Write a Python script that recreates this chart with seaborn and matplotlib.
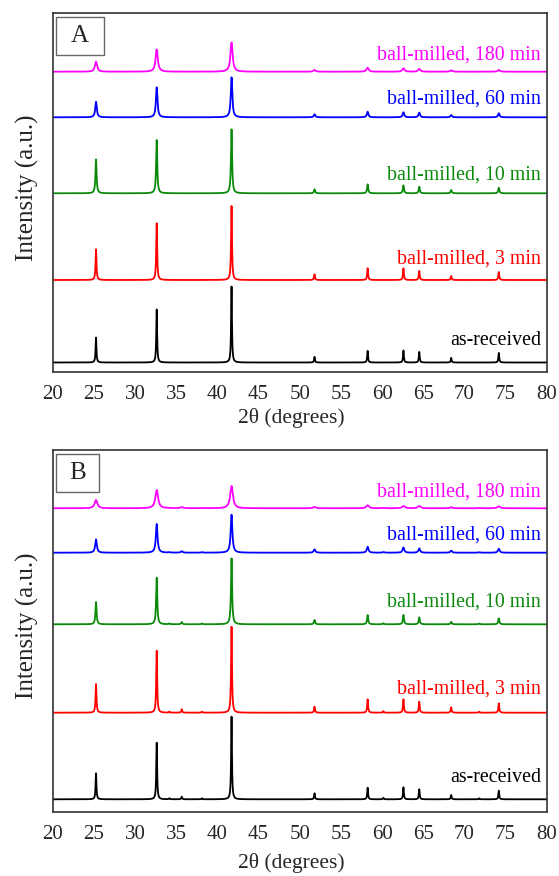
import numpy as np
import pandas as pd
import seaborn as sns
import matplotlib.pyplot as plt
from matplotlib.patches import Rectangle
from matplotlib.ticker import MultipleLocator

# ---- data -------------------------------------------------------------
samples = ["as-received", "ball-milled, 3 min", "ball-milled, 10 min",
           "ball-milled, 60 min", "ball-milled, 180 min"]
colors = ["#000000", "#ff0000", "#0a8a0a", "#0000ff", "#ff00ff"]

# panel A: reflection positions (2θ, degrees) and peak intensities (a.u.)
peaks_A = [25.26, 32.63, 41.72, 51.80, 58.25, 62.60, 64.52, 68.40, 74.18]
int_A_asrec = [25.0, 53.0, 76.0, 5.6, 11.6, 12.0, 10.6, 4.6, 9.6]
int_A_3min = [30.7, 56.7, 74.0, 5.7, 11.7, 11.7, 9.0, 4.0, 8.0]
int_A_10min = [34.0, 53.3, 64.0, 4.0, 9.0, 8.0, 6.6, 3.3, 5.6]
int_A_60min = [15.6, 30.0, 40.0, 3.0, 5.6, 5.0, 4.7, 2.3, 4.0]
int_A_180min = [10.0, 22.3, 29.3, 1.7, 4.0, 3.3, 2.7, 1.3, 1.7]
fwhm_A = [0.12, 0.13, 0.16, 0.22, 0.32]
offset_A = [9.5, 92.0, 178.7, 254.7, 300.3]

# panel B: reflection positions (2θ, degrees) and peak intensities (a.u.)
peaks_B = [25.26, 32.63, 34.17, 35.67, 38.13, 41.72, 51.80, 58.25, 60.15,
           62.60, 64.52, 68.40, 71.80, 74.18]
int_B_asrec = [26.0, 56.6, 1.0, 2.6, 1.0, 82.6, 6.0, 11.6, 1.5, 12.0, 10.0, 4.3, 1.0, 8.6]
int_B_3min = [28.7, 62.0, 1.0, 3.4, 1.0, 86.0, 6.0, 13.4, 1.5, 13.4, 11.0, 5.4, 1.0, 9.4]
int_B_10min = [22.3, 46.6, 0.8, 2.3, 0.8, 66.0, 4.3, 9.3, 1.0, 9.3, 7.0, 2.6, 0.8, 6.0]
int_B_60min = [13.3, 28.7, 0.5, 1.5, 0.5, 38.0, 3.3, 6.0, 0.6, 5.3, 4.3, 2.0, 0.5, 4.0]
int_B_180min = [8.3, 18.3, 0.3, 1.0, 0.3, 22.3, 1.3, 3.0, 0.4, 2.3, 2.3, 1.0, 0.3, 2.0]
fwhm_B = [0.12, 0.13, 0.16, 0.24, 0.40]
offset_B = [12.2, 98.8, 187.2, 258.8, 303.2]

two_theta = np.arange(20.0, 80.0001, 0.01)


def pattern(positions, intensities, fwhm):
    """Sum of Lorentzian reflections for one diffractogram."""
    hw = fwhm / 2.0
    y = np.zeros_like(two_theta)
    for p, h in zip(positions, intensities):
        y += h / (1.0 + ((two_theta - p) / hw) ** 2)
    return y


def build_frame(positions, intensity_sets, fwhms, offsets):
    frames = []
    for name, ints, w, off in zip(samples, intensity_sets, fwhms, offsets):
        frames.append(pd.DataFrame({"two_theta": two_theta,
                                    "intensity": pattern(positions, ints, w) + off,
                                    "sample": name}))
    return pd.concat(frames, ignore_index=True)


df_A = build_frame(peaks_A, [int_A_asrec, int_A_3min, int_A_10min, int_A_60min, int_A_180min],
                   fwhm_A, offset_A)
df_B = build_frame(peaks_B, [int_B_asrec, int_B_3min, int_B_10min, int_B_60min, int_B_180min],
                   fwhm_B, offset_B)

# ---- styling ------------------------------------------------------------
sns.set_style("white")
plt.rcParams["font.family"] = ["Liberation Serif", "DejaVu Serif"]

fig = plt.figure(figsize=(5.59, 8.76), dpi=100)
W, H = 559.0, 876.0
ax_A = fig.add_axes([52.7 / W, 1 - 372.0 / H, 494.0 / W, 359.0 / H])
ax_B = fig.add_axes([52.7 / W, 1 - 811.5 / H, 494.0 / W, 362.0 / H])

label_y_A = [31.3, 112.7, 197.0, 272.7, 317.0]
label_y_B = [33.8, 122.8, 209.2, 276.5, 319.8]

for ax, df, ylim, label_y, letter, box, xpad in [
        (ax_A, df_A, 359.0, label_y_A, "A", (0.0067, 0.883, 0.0971, 0.105), 3),
        (ax_B, df_B, 362.0, label_y_B, "B", (0.0067, 0.882, 0.0878, 0.106), 7)]:
    sns.lineplot(data=df, x="two_theta", y="intensity", hue="sample",
                 palette=dict(zip(samples, colors)), estimator=None,
                 sort=False, linewidth=1.3, legend=False, ax=ax)
    ax.set_xlim(20, 80)
    ax.set_ylim(0, ylim)
    ax.xaxis.set_major_locator(MultipleLocator(5))
    ax.xaxis.set_minor_locator(MultipleLocator(2.5))
    ax.tick_params(axis="x", which="major", direction="out", length=5.5,
                   width=1.0, labelsize=15, pad=4, color="#333333")
    ax.tick_params(axis="x", which="minor", direction="out", length=3,
                   width=1.0, color="#333333")
    ax.tick_params(axis="y", left=False, labelleft=False)
    for s in ax.spines.values():
        s.set_visible(True)
        s.set_color("#333333")
        s.set_linewidth(1.2)
    ax.set_xlabel("2θ (degrees)", fontsize=15.5, labelpad=xpad)
    ax.xaxis.label.set_x(0.483)
    ax.set_ylabel("Intensity (a.u.)", fontsize=18, labelpad=10)
    ax.yaxis.label.set_y(0.514)

    for name, col, yy in zip(samples, colors, label_y):
        ax.text(79.3, yy, name, color=col, fontsize=14.3, ha="right", va="center")

    bx, by, bw, bh = box
    ax.add_patch(Rectangle((bx, by), bw, bh, transform=ax.transAxes,
                           facecolor="white", edgecolor="#666666", linewidth=1.0, zorder=5))
    ax.text(bx + bw / 2, by + bh / 2, letter, transform=ax.transAxes,
            fontsize=18, ha="center", va="center", zorder=6)

fig.savefig("out.png", dpi=100)
